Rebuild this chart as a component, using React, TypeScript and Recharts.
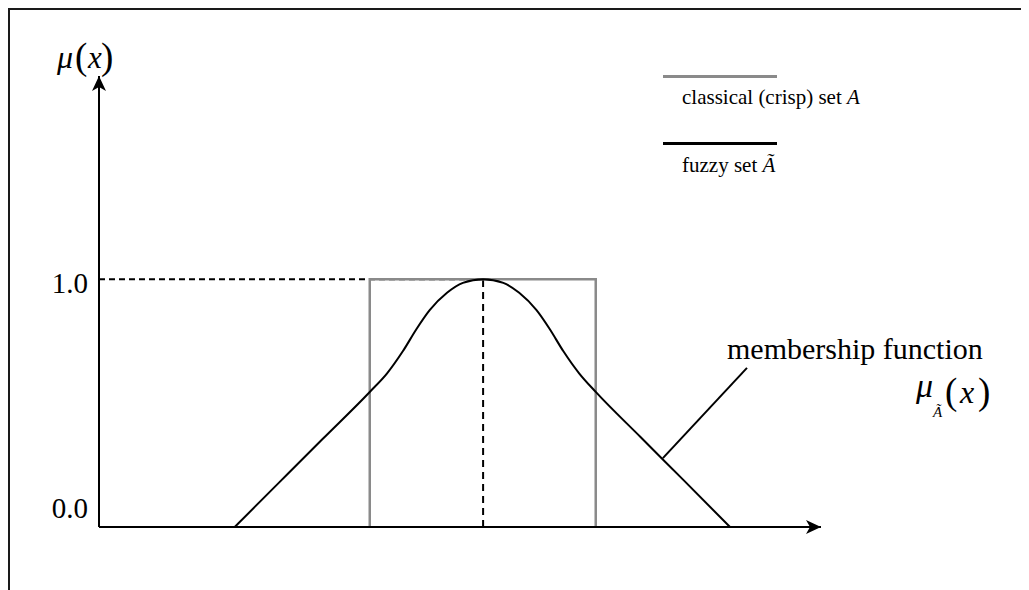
import React from "react";
import { Legend, Line, LineChart, ReferenceDot, ReferenceLine, XAxis, YAxis } from "recharts";

// membership values
const fuzzyX = [1.88, 2.5, 3.1, 3.75, 3.99, 4.21, 4.4, 4.58, 4.82, 5.04, 5.32, 5.6, 5.82, 6.06, 6.24, 6.43, 6.65, 6.88, 7.5, 8.1, 8.74];
const fuzzyY = [0, 0.181, 0.356, 0.545, 0.62, 0.71, 0.8, 0.875, 0.945, 0.985, 1, 0.985, 0.945, 0.875, 0.8, 0.71, 0.62, 0.545, 0.363, 0.188, 0];
const crispX = [3.75, 3.75, 6.88, 6.88];
const crispY = [0, 1, 1, 0];
const peakX = 5.32;
const yTicks = [0, 1];
const legendNames = ["classical (crisp) set", "fuzzy set"];
const legendSymbols = ["A", "Ã"];

const fuzzyData = fuzzyX.map((x, i) => ({ x, y: fuzzyY[i] }));
const crispData = crispX.map((x, i) => ({ x, y: crispY[i] }));

const FONT = "'Liberation Serif', 'Times New Roman', serif";
const X_MAX = 10;
const Y_MAX = 1.82;

const YTick = (props: any) => {
  const { x, y, payload } = props;
  const shift = payload.value === 0 ? -9 : 14;
  return (
    <text x={x} y={y + shift} textAnchor="end" fontSize={29} fontFamily={FONT} fill="#000">
      {payload.value.toFixed(1)}
    </text>
  );
};

const UpArrow = (props: any) => {
  const { cx, cy } = props;
  return <path d={`M${cx},${cy} L${cx - 7},${cy + 15} L${cx},${cy + 11} L${cx + 7},${cy + 15} Z`} fill="#000" />;
};

const RightArrow = (props: any) => {
  const { cx, cy } = props;
  return <path d={`M${cx},${cy} L${cx - 15},${cy - 7} L${cx - 11},${cy} L${cx - 15},${cy + 7} Z`} fill="#000" />;
};

const LegendBox = (props: any) => {
  const { payload } = props;
  return (
    <div style={{ position: "relative", width: 240, height: 110, fontFamily: FONT }}>
      {(payload || []).map((p: any, i: number) => (
        <React.Fragment key={i}>
          <div style={{ position: "absolute", left: 0, top: i * 67, width: 114, height: 2.5, background: p.color }} />
          <div style={{ position: "absolute", left: 19, top: 12 + i * 68, fontSize: 21, lineHeight: 1, whiteSpace: "nowrap", color: "#000" }}>
            {legendNames[i]} <i>{legendSymbols[i]}</i>
          </div>
        </React.Fragment>
      ))}
    </div>
  );
};

export default function App() {
  return (
    <div
      style={{
        position: "relative",
        width: 1019,
        height: 580,
        borderLeft: "2px solid #1a1a1a",
        borderTop: "2px solid #1a1a1a",
        fontFamily: FONT,
      }}
    >
      <LineChart width={1019} height={580} margin={{ top: 66, right: 208, bottom: 62, left: 49 }}>
        <XAxis
          type="number"
          dataKey="x"
          domain={[0, X_MAX]}
          tick={false}
          tickLine={false}
          height={1}
          axisLine={{ stroke: "#000", strokeWidth: 2 }}
        />
        <YAxis
          type="number"
          domain={[0, Y_MAX]}
          ticks={yTicks}
          width={40}
          tickLine={false}
          tickSize={0}
          tickMargin={11}
          tick={<YTick />}
          axisLine={{ stroke: "#000", strokeWidth: 2 }}
        />
        <ReferenceLine segment={[{ x: 0, y: 1 }, { x: peakX, y: 1 }]} stroke="#000" strokeWidth={2} strokeDasharray="6 4" />
        <ReferenceLine segment={[{ x: peakX, y: 0 }, { x: peakX, y: 1 }]} stroke="#000" strokeWidth={2} strokeDasharray="7 5" />
        <Line
          data={crispData}
          dataKey="y"
          name="classical (crisp) set A"
          type="linear"
          stroke="#8a8a8a"
          strokeWidth={2.5}
          dot={false}
          activeDot={false}
          isAnimationActive={false}
        />
        <Line
          data={fuzzyData}
          dataKey="y"
          name="fuzzy set Ã"
          type="monotone"
          stroke="#000"
          strokeWidth={2}
          dot={false}
          activeDot={false}
          isAnimationActive={false}
        />
        <ReferenceLine segment={[{ x: 8.975, y: 0.642 }, { x: 7.81, y: 0.278 }]} stroke="#000" strokeWidth={2} />
        <ReferenceDot x={0} y={Y_MAX} r={0} shape={<UpArrow />} />
        <ReferenceDot x={X_MAX} y={0} r={0} shape={<RightArrow />} />
        <Legend
          layout="horizontal"
          verticalAlign="middle"
          align="center"
          content={<LegendBox />}
          wrapperStyle={{ position: "absolute", left: 653, top: 65, width: 240, height: 110 }}
        />
      </LineChart>
      <svg width={1019} height={580} style={{ position: "absolute", left: 0, top: 0, pointerEvents: "none" }}>
        <g transform="translate(-10 -10)" fontFamily={FONT} fill="#000">
          <text>
            <tspan x={57} y={68} fontSize={32} fontStyle="italic">μ</tspan>
            <tspan x={75} y={69} fontSize={37}>(</tspan>
            <tspan x={88} y={68} fontSize={31} fontStyle="italic">x</tspan>
            <tspan x={101} y={69} fontSize={37}>)</tspan>
          </text>
          <text x={727} y={359} fontSize={30}>membership function</text>
          <text>
            <tspan x={916} y={397} fontSize={34} fontStyle="italic">μ</tspan>
            <tspan x={933} y={417} fontSize={15} fontStyle="italic">Ã</tspan>
            <tspan x={945} y={404} fontSize={37}>(</tspan>
            <tspan x={960} y={403} fontSize={32} fontStyle="italic">x</tspan>
            <tspan x={978} y={404} fontSize={37}>)</tspan>
          </text>
        </g>
      </svg>
    </div>
  );
}
